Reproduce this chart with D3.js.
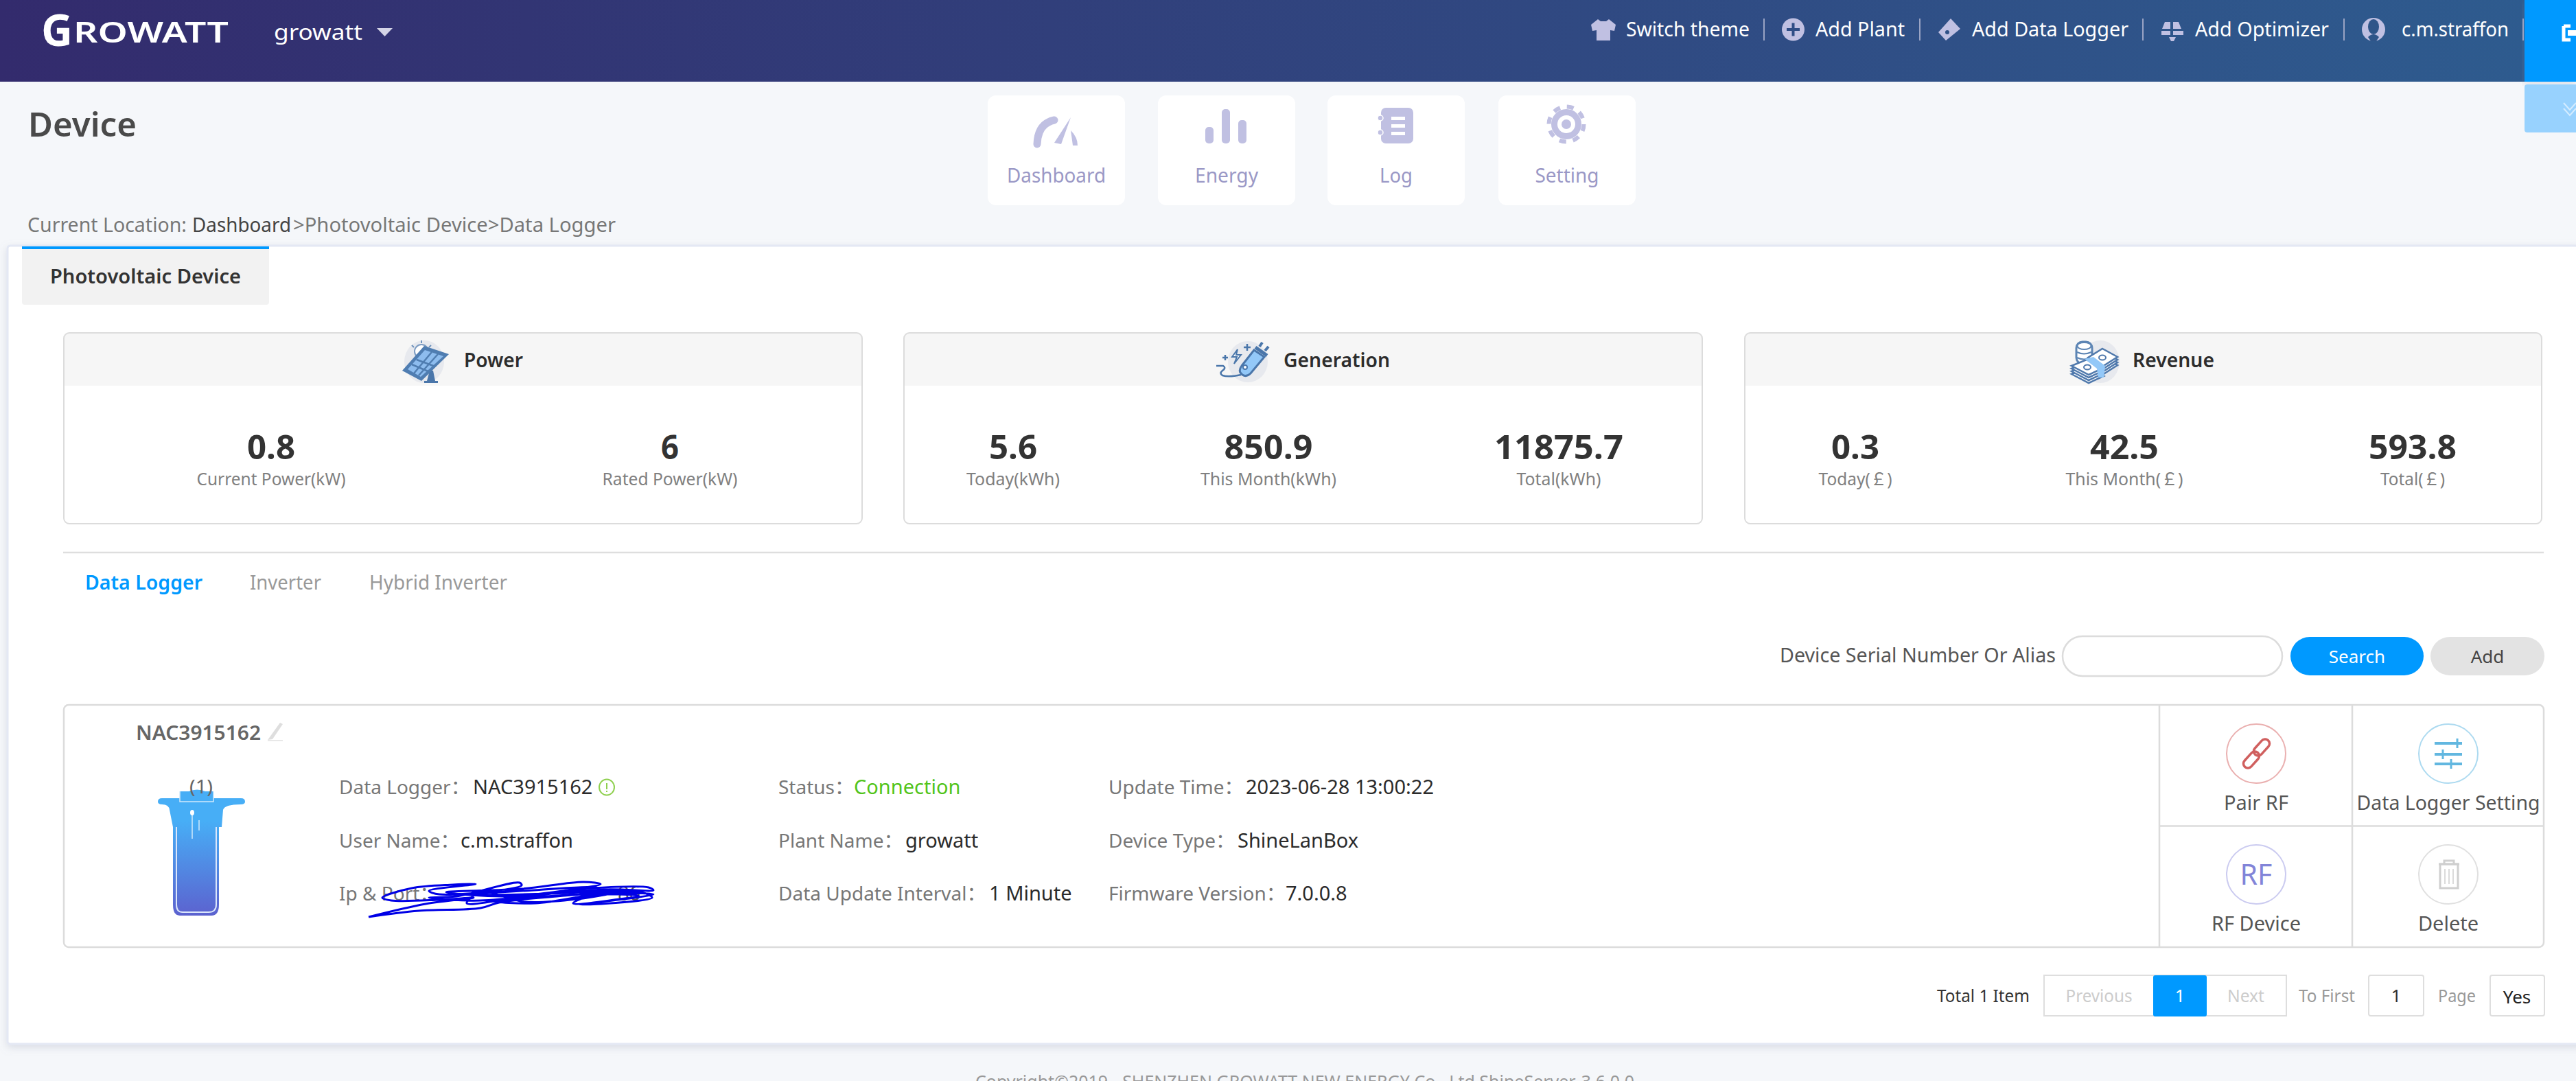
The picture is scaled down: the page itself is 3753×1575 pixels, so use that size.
<!DOCTYPE html>
<html>
<head>
<meta charset="utf-8">
<title>Growatt device</title>
<script src="https://cdn.jsdelivr.net/npm/d3@7"></script>
<style>
  html, body { margin: 0; padding: 0; background: #f5f7fa; overflow: hidden; }
  text { font-family: "Noto Sans", "Noto Sans CJK SC", sans-serif; }
</style>
</head>
<body>
<div id="chart"></div>
<script>
const toolLabels = ["Switch theme", "Add Plant", "Add Data Logger", "Add Optimizer", "c.m.straffon"];
const navLabels = ["Dashboard", "Energy", "Log", "Setting"];
const breadcrumb = ["Current Location: ", "Dashboard", ">Photovoltaic Device>Data Logger"];
const groupTitles = ["Power", "Generation", "Revenue"];
const powerValues = ["0.8", "6"];
const powerLabels = ["Current Power(kW)", "Rated Power(kW)"];
const generationValues = ["5.6", "850.9", "11875.7"];
const generationLabels = ["Today(kWh)", "This Month(kWh)", "Total(kWh)"];
const revenueValues = ["0.3", "42.5", "593.8"];
const revenueLabels = ["Today(￡)", "This Month(￡)", "Total(￡)"];
const deviceTabs = ["Data Logger", "Inverter", "Hybrid Inverter"];
const actionLabels = ["Pair RF", "Data Logger Setting", "RF Device", "Delete"];
const infoLabels = [
  ["Data Logger：", "User Name：", "Ip & Port："],
  ["Status：", "Plant Name：", "Data Update Interval："],
  ["Update Time：", "Device Type：", "Firmware Version："]
];
const infoValues = [
  ["NAC3915162", "c.m.straffon", ""],
  ["Connection", "growatt", "1 Minute"],
  ["2023-06-28 13:00:22", "ShineLanBox", "7.0.0.8"]
];

const W = 3753, H = 1575;
const iconColor = "#c0c0e2";
const blue = "#0099ff";

const svg = d3.select("#chart").append("svg")
  .attr("width", W).attr("height", H)
  .style("display", "block");

const defs = svg.append("defs");
const headGrad = defs.append("linearGradient").attr("id", "headGrad");
headGrad.append("stop").attr("offset", "0").attr("stop-color", "#332b6d");
headGrad.append("stop").attr("offset", "1").attr("stop-color", "#2e5c8f");
const devGrad = defs.append("linearGradient").attr("id", "devGrad")
  .attr("x1", 0).attr("y1", 0).attr("x2", 0).attr("y2", 1);
devGrad.append("stop").attr("offset", "0.25").attr("stop-color", "#47aef6");
devGrad.append("stop").attr("offset", "1").attr("stop-color", "#5c62cf");
const shadow = defs.append("filter").attr("id", "shadow")
  .attr("x", "-5%").attr("y", "-5%").attr("width", "110%").attr("height", "110%");
shadow.append("feDropShadow").attr("dx", 0).attr("dy", 4).attr("stdDeviation", 6)
  .attr("flood-color", "#8a90a8").attr("flood-opacity", 0.25);

function txt(g, x, y, s, o = {}) {
  const t = g.append("text")
    .attr("x", x).attr("y", y)
    .attr("font-size", o.size || 29)
    .attr("fill", o.fill || "#777")
    .attr("font-weight", o.weight || 400)
    .attr("text-anchor", o.anchor || "start")
    .text(s);
  if (o.width) t.attr("textLength", o.width).attr("lengthAdjust", "spacingAndGlyphs");
  return t;
}

function box(g, x0, y0, x1, y1, o = {}) {
  return g.append("rect")
    .attr("x", x0).attr("y", y0)
    .attr("width", x1 - x0).attr("height", y1 - y0)
    .attr("rx", o.r || 0)
    .attr("fill", o.fill || "none")
    .attr("stroke", o.stroke || "none")
    .attr("stroke-width", o.sw || 2);
}

// main panel
box(svg, 11, 358, W + 10, 1521, {fill: "#fff", stroke: "#e4e8f4", sw: 3, r: 4}).attr("filter", "url(#shadow)");

// header
box(svg, 0, 0, W, 119, {fill: "url(#headGrad)"});
txt(svg, 60, 67, "G", {size: 64, fill: "#fff", weight: 700, width: 46});
txt(svg, 107, 62, "ROWATT", {size: 42, fill: "#fff", weight: 600, width: 226});
txt(svg, 399, 58, "growatt", {size: 31, fill: "#fff", width: 129});
svg.append("path").attr("d", "M549,41L572,41L560.5,53Z").attr("fill", "#d4d4e6");

const toolX = [2369, 2645, 2873, 3198, 3499];
const toolW = [180, 130, 228, 195, 156];
toolLabels.forEach((s, i) => {
  txt(svg, toolX[i], 53, s, {size: 29, fill: "#fff", width: toolW[i]});
});
[2570, 2797, 3122, 3415, 3676].forEach(x => {
  svg.append("line").attr("x1", x).attr("x2", x).attr("y1", 27).attr("y2", 59)
    .attr("stroke", "#9aa4c4").attr("stroke-width", 2);
});
const hi = svg.append("g").attr("fill", iconColor);
hi.append("path").attr("d", "M2328,28L2332,31L2340,31L2344,28L2354,36L2352,45L2346,44L2346,59L2326,59L2326,44L2320,45L2318,36Z");
hi.append("circle").attr("cx", 2612.5).attr("cy", 43).attr("r", 16.5);
hi.append("path").attr("d", "M2603,43H2622M2612.5,33.5V52.5").attr("stroke", "#2f4d86").attr("stroke-width", 4);
hi.append("path").attr("d", "M2842,27L2856,42L2835,59L2824,47Z");
hi.append("circle").attr("cx", 2837).attr("cy", 47).attr("r", 3).attr("fill", "#2f5086");
hi.append("path").attr("d", "M3154,32H3162V42H3150ZM3166,32H3174L3178,42H3166ZM3149,45H3162V51H3149ZM3166,45H3181V51H3166ZM3160,54H3170L3167,60H3163Z");
hi.append("ellipse").attr("cx", 3458).attr("cy", 43).attr("rx", 17).attr("ry", 17);
hi.append("ellipse").attr("cx", 3458).attr("cy", 39).attr("rx", 8).attr("ry", 11).attr("fill", "#2f5589");
hi.append("path").attr("d", "M3450,54Q3458,46 3466,54L3462,60H3454Z").attr("fill", "#2f5589");

// top-right buttons
box(svg, 3678, 0, W, 119, {fill: blue}).attr("filter", "url(#shadow)");
box(svg, 3678, 123, W + 6, 193, {fill: "#98d2fe", r: 4});
svg.append("path").attr("d", "M3735,38H3745M3735,38V58H3745").attr("fill", "none").attr("stroke", "#fff").attr("stroke-width", 5);
svg.append("path").attr("d", "M3741,48H3753").attr("stroke", "#fff").attr("stroke-width", 8);
svg.append("path").attr("d", "M3735,150L3744,160L3753,150M3735,158L3744,168L3753,158").attr("fill", "none").attr("stroke", "#d4ecff").attr("stroke-width", 2);

// page title and nav
txt(svg, 41, 199, "Device", {size: 48, fill: "#4a4a4a", weight: 600, width: 158});
const navX = [1439, 1687, 1934, 2183];
const navW = [144, 92, 48, 93];
const navG = svg.append("g");
navLabels.forEach((s, i) => {
  box(navG, navX[i], 139, navX[i] + 200, 299, {fill: "#fff", r: 12});
  txt(navG, navX[i] + 100, 266, s, {size: 29, fill: "#9a98c6", anchor: "middle", width: navW[i]});
});
const ni = svg.append("g").attr("fill", iconColor);
ni.append("path").attr("d", "M1511,210Q1512,180 1536,175").attr("fill", "none").attr("stroke", iconColor).attr("stroke-width", 11).attr("stroke-linecap", "round");
ni.append("path").attr("d", "M1560,171L1546,210L1536,208ZM1560,190Q1570,200 1570,212L1563,212Z");
[[1756, 185], [1780, 159], [1804, 175]].forEach(d => {
  ni.append("rect").attr("x", d[0]).attr("y", d[1]).attr("width", 12).attr("height", 209 - d[1]).attr("rx", 5);
});
ni.append("rect").attr("x", 2012).attr("y", 157).attr("width", 47).attr("height", 52).attr("rx", 7);
[172, 183, 194].forEach(y => {
  ni.append("rect").attr("x", 2027).attr("y", y - 2).attr("width", 20).attr("height", 5).attr("fill", "#fff");
});
[172, 193].forEach(y => {
  ni.append("circle").attr("cx", 2011).attr("cy", y).attr("r", 4).attr("fill", iconColor).attr("stroke", "#fff").attr("stroke-width", 1.5);
});
ni.append("circle").attr("cx", 2282).attr("cy", 181).attr("r", 17.5).attr("fill", "none").attr("stroke", iconColor).attr("stroke-width", 9);
ni.append("circle").attr("cx", 2282).attr("cy", 181).attr("r", 25.5).attr("fill", "none").attr("stroke", iconColor).attr("stroke-width", 6).attr("stroke-dasharray", "10 10.03");
ni.append("circle").attr("cx", 2282).attr("cy", 181).attr("r", 7);

// breadcrumb
const crumbFill = ["#777", "#444", "#777"];
const crumbX = [40, 280, 427];
const crumbW = [232, 144, 470];
breadcrumb.forEach((s, i) => {
  txt(svg, crumbX[i], 338, s, {size: 29, fill: crumbFill[i], width: crumbW[i]});
});

// device type tab
box(svg, 32, 359, 392, 444, {fill: "#f2f2f2", r: 4});
box(svg, 32, 359, 392, 363, {fill: blue});
txt(svg, 73, 413, "Photovoltaic Device", {size: 29, fill: "#333", weight: 600, width: 278});

// stat cards
const cardRange = [[93, 1256], [1317, 2480], [2542, 3703]];
const statCenters = [[395, 976], [1476, 1848, 2271], [2703, 3095, 3515]];
const valueW = [[70, 26], [70, 129, 188], [70, 100, 128]];
const labelW = [[217, 197], [136, 198, 123], [107, 171, 94]];
const titleX = [676, 1870, 3107];
const titleW = [86, 155, 119];
const statValues = [powerValues, generationValues, revenueValues];
const statLabels = [powerLabels, generationLabels, revenueLabels];

groupTitles.forEach((title, i) => {
  const [x0, x1] = cardRange[i];
  const g = svg.append("g");
  g.append("path")
    .attr("d", `M${x0},562V492Q${x0},485 ${x0 + 7},485H${x1 - 7}Q${x1},485 ${x1},492V562Z`)
    .attr("fill", "#f6f6f6");
  box(g, x0, 485, x1, 763, {stroke: "#dcdcdc", sw: 2, r: 8});
  txt(g, titleX[i], 535, title, {size: 29, fill: "#2d2d2d", weight: 600, width: titleW[i]});
  statValues[i].forEach((v, j) => {
    txt(g, statCenters[i][j], 669, v, {size: 49, fill: "#333", weight: 700, anchor: "middle", width: valueW[i][j]});
    txt(g, statCenters[i][j], 707, statLabels[i][j], {size: 25, fill: "#808080", anchor: "middle", width: labelW[i][j]});
  });
});

// power icon
const pi = svg.append("g");
pi.append("ellipse").attr("cx", 618).attr("cy", 527).attr("rx", 29).attr("ry", 31).attr("fill", "#e7e9ee");
pi.append("circle").attr("cx", 614).attr("cy", 512).attr("r", 10).attr("fill", "#fff").attr("stroke", "#7d9cc2").attr("stroke-width", 2);
pi.append("path").attr("d", "M614,496V500M600,503L603,506M628,503L625,506").attr("stroke", "#6f93bd").attr("stroke-width", 2);
pi.append("path").attr("d", "M626,540L631,540L634,555H638V558H618V555H622Z").attr("fill", "#4a76aa");
pi.append("path").attr("d", "M618,504L654,516L614,555L586,540Z").attr("fill", "#4f7db1");
pi.append("path").attr("d", "M619,510L646,519L613,549L594,538Z").attr("fill", "#8dbcee");
pi.append("path").attr("d", "M629,513L603,544M638,516L610,547M607,524L634,534M600,531L626,542").attr("stroke", "#4f7db1").attr("stroke-width", 2.5);

// generation icon
const gi = svg.append("g");
gi.append("ellipse").attr("cx", 1818).attr("cy", 527).attr("rx", 29).attr("ry", 30).attr("fill", "#e7e9ee");
gi.append("path").attr("d", "M1827,510L1842,520L1822,544Q1816,550 1810,546L1808,544Q1804,540 1809,533Z").attr("fill", "#93c8f8").attr("stroke", "#4a76aa").attr("stroke-width", 3);
gi.append("path").attr("d", "M1829,506L1846,518").attr("stroke", "#4a76aa").attr("stroke-width", 5);
gi.append("path").attr("d", "M1835,505L1839,499M1843,511L1848,505").attr("stroke", "#4a76aa").attr("stroke-width", 4);
gi.append("circle").attr("cx", 1814).attr("cy", 535).attr("r", 3).attr("fill", "#fff").attr("stroke", "#4a76aa").attr("stroke-width", 2);
gi.append("path").attr("d", "M1803,509L1795,520H1802L1798,530L1808,517H1801Z").attr("fill", "#fff").attr("stroke", "#4a76aa").attr("stroke-width", 2);
gi.append("path").attr("d", "M1772,533H1782Q1787,536 1781,540Q1776,544 1781,547Q1790,550 1808,546").attr("fill", "none").attr("stroke", "#4a76aa").attr("stroke-width", 2.5);
gi.append("path").attr("d", "M1781,521H1789M1785,517V525M1812,506H1822M1817,501V511").attr("stroke", "#4a76aa").attr("stroke-width", 2.5);

// revenue icon
const ri = svg.append("g");
ri.append("ellipse").attr("cx", 3060).attr("cy", 527).attr("rx", 28).attr("ry", 31).attr("fill", "#e7e9ee");
ri.append("rect").attr("x", 3025).attr("y", 498).attr("width", 23).attr("height", 32).attr("rx", 9).attr("fill", "#fff").attr("stroke", "#5d85b4").attr("stroke-width", 3);
ri.append("ellipse").attr("cx", 3036.5).attr("cy", 504).attr("rx", 10).attr("ry", 5).attr("fill", "#fff").attr("stroke", "#5d85b4").attr("stroke-width", 2);
ri.append("path").attr("d", "M3026,513Q3036,518 3047,513M3026,521Q3036,526 3047,521").attr("fill", "none").attr("stroke", "#5d85b4").attr("stroke-width", 2);
const billOffsets = [12, 8, 4, 0];
billOffsets.forEach(dy => {
  ri.append("path").attr("d", `M3063,${508 + dy}L3085,${520 + dy}L3063,${534 + dy}L3042,${521 + dy}Z`)
    .attr("fill", "#fff").attr("stroke", "#5079ac").attr("stroke-width", 2.5);
});
ri.append("ellipse").attr("cx", 3063).attr("cy", 521).attr("rx", 5).attr("ry", 3.5).attr("fill", "#fff").attr("stroke", "#5079ac").attr("stroke-width", 2);
billOffsets.forEach(dy => {
  ri.append("path").attr("d", `M3040,${524 + dy}L3065,${536 + dy}L3043,${546 + dy}L3018,${533 + dy}Z`)
    .attr("fill", "#fff").attr("stroke", "#5079ac").attr("stroke-width", 2.5);
});
ri.append("ellipse").attr("cx", 3041).attr("cy", 535).attr("rx", 5).attr("ry", 3.5).attr("fill", "#fff").attr("stroke", "#5079ac").attr("stroke-width", 2);
ri.append("path").attr("d", "M3037,523L3050,520L3067,533L3065,550L3057,550L3055,537Z").attr("fill", "#93c8f8");

// divider and device tabs
svg.append("line").attr("x1", 92).attr("x2", 3706).attr("y1", 805).attr("y2", 805).attr("stroke", "#dedede").attr("stroke-width", 2.5);
const deviceTabX = [124, 364, 538];
const deviceTabW = [171, 104, 201];
deviceTabs.forEach((s, i) => {
  txt(svg, deviceTabX[i], 859, s, {
    size: 29, fill: i === 0 ? blue : "#999", weight: i === 0 ? 600 : 400, width: deviceTabW[i]
  });
});

// search row
txt(svg, 2593, 965, "Device Serial Number Or Alias", {size: 29, fill: "#555", width: 402});
box(svg, 3005, 927, 3325, 985, {fill: "#fff", stroke: "#dcdcdc", sw: 2.5, r: 29});
box(svg, 3337, 928, 3531, 984, {fill: blue, r: 28});
txt(svg, 3434, 966, "Search", {size: 26, fill: "#fff", anchor: "middle"});
box(svg, 3541, 928, 3707, 984, {fill: "#e3e3e3", r: 28});
txt(svg, 3624, 966, "Add", {size: 26, fill: "#444", anchor: "middle"});

// device row
box(svg, 93, 1027, 3706, 1380, {fill: "#fff", stroke: "#dcdcdc", sw: 2.5, r: 7});
svg.append("path").attr("d", "M3146,1027V1380M3427,1027V1380M3146,1203.5H3706").attr("fill", "none").attr("stroke", "#dcdcdc").attr("stroke-width", 2.5);

txt(svg, 198, 1078, "NAC3915162", {size: 29, fill: "#666", weight: 600, width: 182});
svg.append("path").attr("d", "M408,1053L412,1055L397,1077L390,1078Z").attr("fill", "#dedede");
svg.append("path").attr("d", "M390,1079H412").attr("stroke", "#e8e8e8").attr("stroke-width", 2);

// data logger picture
const di = svg.append("g");
di.append("path")
  .attr("d", "M262,1163V1153H275Q287,1148 299,1153H311V1163H351Q357,1163 357,1168Q357,1172 351,1172Q327,1172 325,1180L323,1205H319V1318Q319,1334 308,1334H262Q252,1334 252,1318V1205L247,1180Q246,1172 236,1172Q230,1172 230,1168Q230,1163 236,1163Z")
  .attr("fill", "url(#devGrad)");
di.append("path").attr("d", "M262,1153V1168H311V1153").attr("fill", "none").attr("stroke", "#cfe9fc").attr("stroke-width", 1.5);
di.append("path").attr("d", "M257,1205V1318Q257,1329 266,1329H304Q315,1329 315,1318V1205").attr("fill", "none").attr("stroke", "#dbe6fb").attr("stroke-width", 2);
di.append("path").attr("d", "M280,1184V1222M290,1195V1210").attr("stroke", "#cfe9fc").attr("stroke-width", 1.5);
di.append("ellipse").attr("cx", 280).attr("cy", 1184).attr("rx", 3).attr("ry", 4).attr("fill", "#fff");
txt(svg, 293, 1156, "(1)", {size: 28, fill: "#666", anchor: "middle", width: 34});

const infoX = [494, 1134, 1615];
const valueX = [[689, 671, 0], [1244, 1319, 1441], [1815, 1803, 1873]];
const rowY = [1157, 1235, 1312];
infoLabels.forEach((col, c) => {
  col.forEach((s, r) => {
    txt(svg, infoX[c], rowY[r], s, {size: 28, fill: "#777"});
    if (infoValues[c][r]) {
      const isStatus = c === 1 && r === 0;
      txt(svg, valueX[c][r], rowY[r], infoValues[c][r], {size: 29, fill: isStatus ? "#52c41a" : "#2b2b2b"});
    }
  });
});
svg.append("ellipse").attr("cx", 884).attr("cy", 1147).attr("rx", 11).attr("ry", 11.5)
  .attr("fill", "none").attr("stroke", "#8fd04f").attr("stroke-width", 2);
svg.append("path").attr("d", "M884,1141V1150M884,1152V1154").attr("stroke", "#8fd04f").attr("stroke-width", 2);

// only the tail of the address shows through the pen scribble
txt(svg, 900, 1312, "86", {size: 29, fill: "#555"});

// pen scribble over the address
const scribble = [
  [537, 1336], [620, 1317], [690, 1308], [640, 1311], [570, 1312], [557, 1308], [600, 1294], [660, 1289],
  [693, 1288], [625, 1298], [640, 1303], [760, 1290], [757, 1286], [665, 1306], [625, 1308], [700, 1312],
  [820, 1298], [875, 1288], [850, 1285], [760, 1295], [650, 1300], [740, 1306], [860, 1294], [945, 1293],
  [952, 1297], [880, 1296], [720, 1313], [780, 1316], [880, 1302], [952, 1303], [900, 1311], [835, 1316],
  [875, 1295], [760, 1298], [680, 1304], [800, 1302], [905, 1298], [840, 1310], [765, 1314], [700, 1300],
  [680, 1316], [745, 1310], [850, 1303], [930, 1305], [845, 1318], [950, 1308], [935, 1300], [800, 1307],
  [727, 1315], [700, 1323], [610, 1327], [537, 1336]
];
svg.append("path").attr("d", d3.line().curve(d3.curveCatmullRom)(scribble))
  .attr("fill", "none").attr("stroke", "#0000e6").attr("stroke-width", 3).attr("stroke-linejoin", "round");

// action cells
const actionX = [3287, 3567];
const actionRows = [1098, 1274];
const actionLabelY = [1180, 1356];
const ringColor = ["#eab0b0", "#addaf0", "#cbcbf0", "#e0e0e0"];
actionLabels.forEach((s, i) => {
  const cx = actionX[i % 2], cy = actionRows[i >> 1];
  svg.append("circle").attr("cx", cx).attr("cy", cy).attr("r", 43)
    .attr("fill", "none").attr("stroke", ringColor[i]).attr("stroke-width", 2);
  txt(svg, cx, actionLabelY[i >> 1], s, {size: 29, fill: "#555", anchor: "middle", width: i === 1 ? 267 : null});
});
const link = svg.append("g").attr("fill", "none").attr("stroke", "#d0605f").attr("stroke-width", 3.5);
link.append("rect").attr("x", -6.5).attr("y", -14).attr("width", 13).attr("height", 28).attr("rx", 6.5).attr("transform", "translate(3295,1089) rotate(42)");
link.append("rect").attr("x", -6.5).attr("y", -14).attr("width", 13).attr("height", 28).attr("rx", 6.5).attr("transform", "translate(3280,1107) rotate(42)");
const sliders = svg.append("g").attr("stroke", "#62b7e0").attr("stroke-width", 4);
[1083, 1099, 1113].forEach((y, i) => {
  sliders.append("line").attr("x1", 3547).attr("x2", 3587).attr("y1", y).attr("y2", y);
  const tx = [3580, 3559, 3571][i];
  sliders.append("line").attr("x1", tx).attr("x2", tx).attr("y1", y - 7).attr("y2", y + 7).attr("stroke-width", 3);
});
txt(svg, 3287, 1289, "RF", {size: 41, fill: "#8284d8", anchor: "middle"});
const bin = svg.append("g").attr("stroke", "#cfcfcf").attr("fill", "none").attr("stroke-width", 3);
bin.append("path").attr("d", "M3553,1259H3583M3561,1258V1254H3575V1258");
bin.append("path").attr("d", "M3555,1259V1294H3581V1259Z");
bin.append("path").attr("d", "M3562,1266V1288M3568,1266V1288M3574,1266V1288").attr("stroke-width", 1.5);

// pagination
txt(svg, 2822, 1460, "Total 1 Item", {size: 26, fill: "#333", width: 135});
box(svg, 2978, 1421, 3331, 1480, {fill: "#fff", stroke: "#dedede", sw: 2});
box(svg, 3137, 1421, 3215, 1481, {fill: blue, r: 3});
txt(svg, 3058, 1460, "Previous", {size: 26, fill: "#ccc", anchor: "middle", width: 97});
txt(svg, 3176, 1460, "1", {size: 26, fill: "#fff", anchor: "middle"});
txt(svg, 3272, 1460, "Next", {size: 26, fill: "#ccc", anchor: "middle", width: 54});
txt(svg, 3349, 1460, "To First", {size: 26, fill: "#999", width: 82});
box(svg, 3451, 1421, 3531, 1480, {fill: "#fff", stroke: "#dedede", sw: 2, r: 3});
txt(svg, 3491, 1460, "1", {size: 26, fill: "#333", anchor: "middle"});
txt(svg, 3552, 1460, "Page", {size: 26, fill: "#999", width: 55});
box(svg, 3628, 1421, 3707, 1480, {fill: "#fff", stroke: "#dedede", sw: 2, r: 3});
txt(svg, 3667, 1462, "Yes", {size: 26, fill: "#222", anchor: "middle"});

// footer, cut by the window edge as in the screenshot
txt(svg, 1421, 1585, "Copyright©2019 - SHENZHEN GROWATT NEW ENERGY Co., Ltd ShineServer-3.6.0.0", {size: 26, fill: "#999", width: 960});
</script>
</body>
</html>
